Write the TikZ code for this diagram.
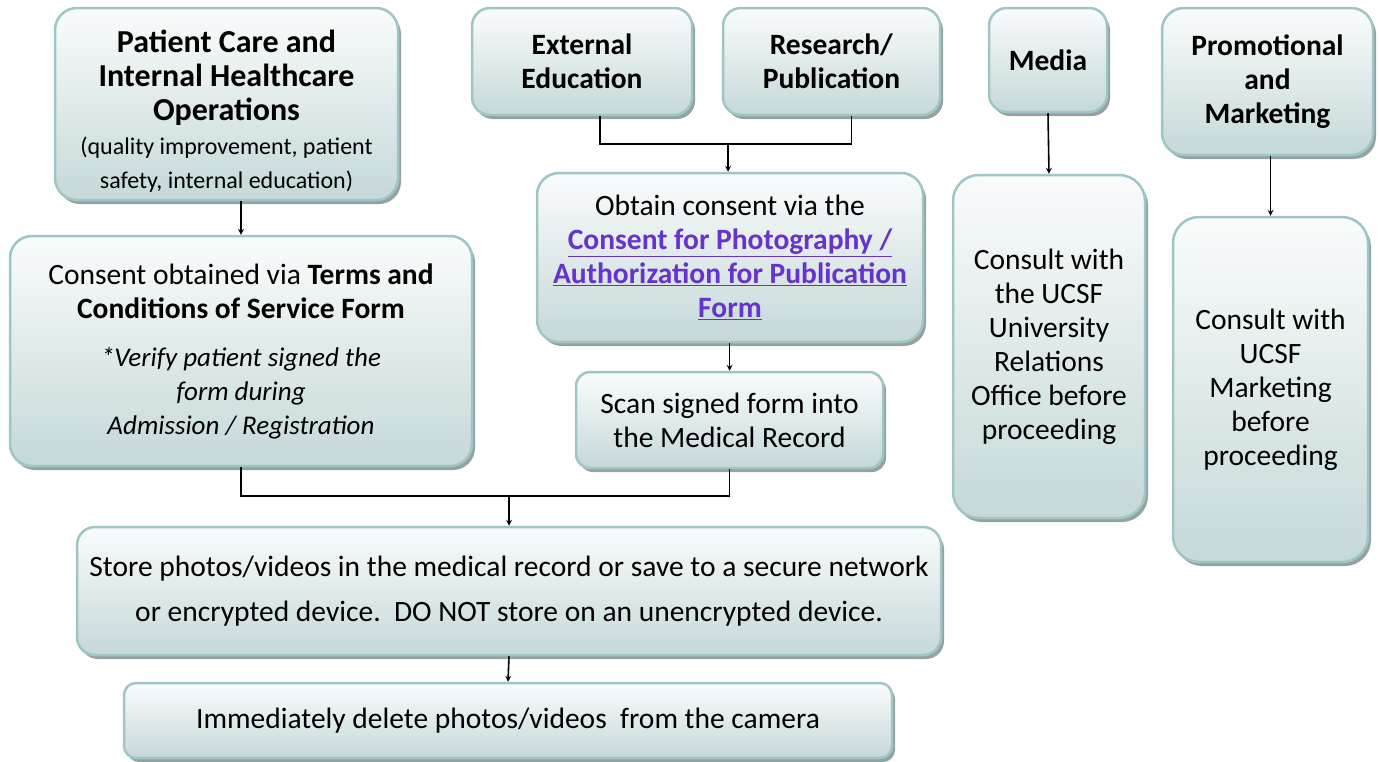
\documentclass[tikz,border=0pt]{standalone}
\usepackage{fontspec}
\setmainfont{Carlito}
\usetikzlibrary{shadows}
\definecolor{boxline}{RGB}{158,198,198}
\definecolor{boxtop}{RGB}{250,252,252}
\definecolor{boxbot}{RGB}{198,216,216}
\definecolor{boxshade}{RGB}{150,162,162}
\definecolor{linkcol}{RGB}{102,51,204}
\newcommand{\formlink}[1]{\textcolor{linkcol}{\textbf{\underline{#1}}}}
\newcommand{\smallnote}{\fontsize{24}{34}\selectfont}
\newcommand{\italnote}{\fontsize{27}{32.5}\selectfont\itshape}
\tikzset{
  flowbox/.style={draw=boxline,line width=2.5pt,rounded corners=22pt,
    top color=boxtop,bottom color=boxbot,align=center,inner sep=0pt,
    drop shadow={shadow xshift=3pt,shadow yshift=-4pt,fill=boxshade,opacity=1},
    font=\fontsize{29.5}{34}\selectfont},
  flowline/.style={line width=1.6pt,black}
}
\begin{document}
\begin{tikzpicture}[>=stealth,x=1pt,y=-1pt]
                        \useasboundingbox (0,0) rectangle (1379,761);
                        \node[flowbox,minimum width=343pt,minimum height=192pt] (care) at (226.5,104)
                            {\fontsize{32}{33.5}\selectfont\rule{0pt}{36pt}\textbf{Patient Care and}\\
                            \fontsize{32}{33.5}\selectfont\textbf{Internal Healthcare}\\
                            \fontsize{32}{33.5}\selectfont\textbf{Operations}\\
                            {\smallnote (quality improvement, patient}\\
                            {\smallnote safety, internal education)}};
                        \node[flowbox,minimum width=462pt,minimum height=230pt] (terms) at (241,351)
                            {Consent obtained via \textbf{Terms and}\\\textbf{Conditions of Service Form}\\[14pt]
                            {\italnote *Verify patient signed the}\\
                            {\italnote form during}\\
                            {\italnote Admission / Registration}};
                        \node[flowbox,rounded corners=18pt,minimum width=220pt,minimum height=107pt] (extedu) at (582,61.5)
                            {\textbf{External}\\\textbf{Education}};
                        \node[flowbox,rounded corners=18pt,minimum width=217pt,minimum height=107pt] (research) at (831.5,61.5)
                            {\textbf{Research/}\\\textbf{Publication}};
                        \node[flowbox,minimum width=386pt,minimum height=169pt] (obtain) at (730,257.5)
                            {Obtain consent via the\\\formlink{Consent for Photography /}\\
                            \formlink{Authorization for Publication}\\\formlink{Form}};
                        \node[flowbox,rounded corners=14pt,minimum width=307pt,minimum height=96pt] (scan) at (729.5,420)
                            {Scan signed form into\\the Medical Record};
                        \node[flowbox,rounded corners=18pt,minimum width=864pt,minimum height=128pt] (store) at (509,591)
                            {Store photos/videos in the medical record or save to a secure network\\[11pt]
                            or encrypted device.\ \ DO NOT store on an unencrypted device.};
                        \node[flowbox,rounded corners=12pt,minimum width=768pt,minimum height=75pt] (delete) at (508,720.5)
                            {Immediately delete photos/videos\ \ from the camera};
                        \node[flowbox,rounded corners=18pt,minimum width=118pt,minimum height=104pt] (media) at (1048,60)
                            {\textbf{Media}};
                        \node[flowbox,rounded corners=26pt,minimum width=192pt,minimum height=343pt] (relations) at (1049,346.5)
                            {Consult with\\the UCSF\\University\\Relations\\Office before\\proceeding};
                        \node[flowbox,minimum width=211pt,minimum height=147pt] (promo) at (1267.5,81.5)
                            {\textbf{Promotional}\\\textbf{and}\\\textbf{Marketing}};
                        \node[flowbox,rounded corners=26pt,minimum width=195pt,minimum height=345pt] (marketing) at (1270.5,389.5)
                            {Consult with\\UCSF\\Marketing\\before\\proceeding};
                        \draw[flowline,->] (care.south -| terms.north) -- (terms.north);
                        \coordinate (topjoin) at (728,144);
                        \draw[flowline] ([xshift=18pt]extedu.south) |- (topjoin) -| ([xshift=20pt]research.south);
                        \draw[flowline,->] (topjoin) -- (obtain.north -| topjoin);
                        \draw[flowline,->] (obtain.south -| scan.north) -- (scan.north);
                        \coordinate (lowjoin) at (509,496);
                        \draw[flowline] (terms.south) |- (lowjoin) -| (scan.south);
                        \draw[flowline,->] (lowjoin) -- (store.north);
                        \draw[flowline,->] (store.south) -- (delete.north);
                        \draw[flowline,->] (media.south) -- (relations.north);
                        \draw[flowline,->] (promo.south -| marketing.north) -- (marketing.north);
                    \end{tikzpicture}
\end{document}
